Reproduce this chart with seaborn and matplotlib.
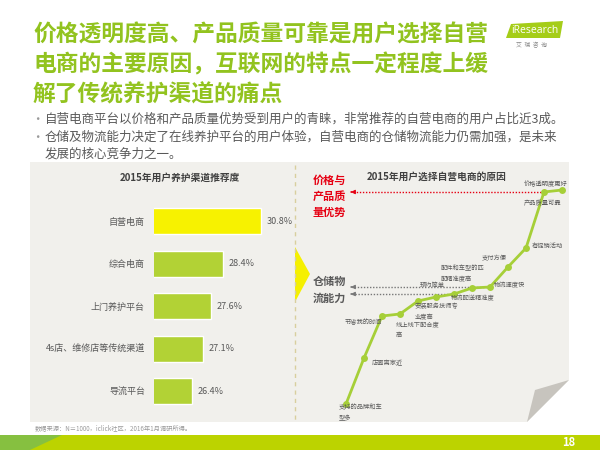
import numpy as np
import matplotlib.pyplot as plt
import seaborn as sns
from matplotlib.patches import Polygon, Rectangle

sns.set_theme(style="white")
plt.rcParams['font.family'] = ['Noto Sans CJK SC', 'DejaVu Sans']

# ---- data ----
title_lines = ['价格透明度高、产品质量可靠是用户选择自营',
               '电商的主要原因，互联网的特点一定程度上缓',
               '解了传统养护渠道的痛点']
bullet_lines = ['自营电商平台以价格和产品质量优势受到用户的青睐，非常推荐的自营电商的用户占比近3成。',
                '仓储及物流能力决定了在线养护平台的用户体验，自营电商的仓储物流能力仍需加强，是未来',
                '发展的核心竞争力之一。']

channels = ['自营电商', '综合电商', '上门养护平台', '4s店、维修店等传统渠道', '导流平台']
shares = [30.8, 28.4, 27.6, 27.1, 26.4]

reasons = ['支持的品牌和车\n型多', '店面离家近', '节省我的时间', '线上线下配合度\n高',
           '安装服务技师专\n业度高', '预约简单', '物流配送精准度', '配件和车型的匹\n配精准度高',
           '物流速度快', '支付方便', '有促销活动', '产品质量可靠', '价格透明度更好']
reason_scores = [16, 62, 104, 106, 119, 123, 126, 132, 133, 153, 172, 228, 230]

W, H = 600, 450
GREEN = '#92c31f'
GRAY = '#595959'


def box(x0, y0, x1, y1):
    return [x0 / W, 1 - y1 / H, (x1 - x0) / W, (y1 - y0) / H]


fig = plt.figure(figsize=(6, 4.5), dpi=100)
fig.patch.set_facecolor('white')

# full-figure layer for the slide decoration
bg = fig.add_axes([0, 0, 1, 1])
bg.set_xlim(0, W)
bg.set_ylim(H, 0)
bg.axis('off')

# title and logo
for i, line in enumerate(title_lines):
    bg.text(33, 35 + i * 30, line, fontsize=16.4, fontweight='bold', color=GREEN, va='center')
bg.add_patch(Polygon([(506, 38), (511, 24), (563, 21), (560, 38)], color='#a5cd18', lw=0))
bg.text(535, 30.5, 'iResearch', fontsize=7.5, color='white', ha='center', va='center', family='Open Sans')
bg.text(532, 45, '艾  瑞  咨  询', fontsize=4.2, color='#888888', ha='center', va='center')

# bullets
for y, line, dot in zip([119, 137, 154], bullet_lines, [True, True, False]):
    if dot:
        bg.text(31, y, '•', fontsize=9, color='#9a9a9a', va='center')
    bg.text(45, y, line, fontsize=9, color=GRAY, va='center')

# panels
panel = '#f1f0ec'
bg.add_patch(Rectangle((30, 162), 265, 260, color=panel, lw=0))
bg.add_patch(Polygon([(295, 162), (569, 162), (569, 380), (527, 422), (295, 422)], color=panel, lw=0))
bg.add_patch(Polygon([(569, 380), (535, 390), (527, 422)], color='#c7c4be', lw=0))
bg.plot([295, 295], [165, 420], color='#d8cf9e', ls=(0, (3, 3)), lw=1)
bg.add_patch(Polygon([(295, 247), (310, 274), (295, 302)], color='#f5f000', lw=0))

bg.text(180, 178, '2015年用户养护渠道推荐度', fontsize=7, fontweight='bold', color='#404040',
        ha='center', va='center')
bg.text(437, 177, '2015年用户选择自营电商的原因', fontsize=7, fontweight='bold', color='#404040',
        ha='center', va='center')

# footer
bg.text(35, 428, '数据来源：N＝1000，iclick社区，2016年1月调研所得。', fontsize=4.5, color='#999999', va='center')
bg.add_patch(Rectangle((0, 435), 600, 15, color='#bcd300', lw=0))
bg.add_patch(Polygon([(0, 435), (62, 435), (30, 450), (0, 450)], color='#86c040', lw=0))
bg.text(569, 443, '18', fontsize=8, fontweight='bold', color='white', ha='center', va='center')

# ---- left: bar chart ----
ax1 = fig.add_axes(box(154, 200, 280, 412.5))
sns.barplot(x=shares, y=channels, hue=channels, legend=False, ax=ax1, width=0.61, saturation=1,
            palette=['#f7f200', '#b2d235', '#b2d235', '#b2d235', '#b2d235'])
ax1.set_xlim(24, 32)
ax1.patch.set_alpha(0)
for s in ax1.spines.values():
    s.set_visible(False)
ax1.set_xticks([])
ax1.set_xlabel('')
ax1.set_ylabel('')
ax1.tick_params(axis='y', length=0, pad=6.5, labelsize=6.5, labelcolor=GRAY)
for c in ax1.containers:
    ax1.bar_label(c, fmt='%.1f%%', padding=4, fontsize=6.5, color=GRAY)

# ---- right: reason curve ----
ax2 = fig.add_axes(box(346, 190, 562, 420))
x = np.arange(len(reasons))
sns.lineplot(x=x, y=reason_scores, ax=ax2, color='#a6cf38', lw=2, marker='o',
             markersize=5, markeredgewidth=0, clip_on=False)
ax2.set_xlim(0, len(reasons) - 1)
ax2.set_ylim(0, 230)
ax2.axis('off')

# label offsets in pixels (dx right, dy down), alignment
label_pos = [(-7, -1, 'left', 'top'), (8, 5, 'left', 'center'), (0, 6, 'right', 'center'),
             (-4, 6, 'left', 'top'), (-3, 1, 'left', 'top'), (-4, -12, 'center', 'center'),
             (-3, 4, 'left', 'center'), (-31, -5, 'left', 'bottom'), (4, -2, 'left', 'center'),
             (-1, -9, 'right', 'center'), (6, -2, 'left', 'center'), (-20, 11, 'left', 'center'),
             (6, -6, 'right', 'center')]
for i, (lab, (dx, dy, ha, va)) in enumerate(zip(reasons, label_pos)):
    ax2.annotate(lab, xy=(i, reason_scores[i]), xytext=(dx * 0.72, -dy * 0.72),
                 textcoords='offset points', ha=ha, va=va, fontsize=4.5, color=GRAY,
                 linespacing=1.5)


def to_bg(i):
    return bg.transData.inverted().transform(ax2.transData.transform((i, reason_scores[i])))


def dotted_arrow(i, color, gap):
    px, py = to_bg(i)
    bg.plot([px - gap, 352], [py, py], color=color, ls=(0, (1, 1.2)), lw=1)
    bg.annotate('', xy=(348, py), xytext=(354, py),
                arrowprops=dict(arrowstyle='-|>', color=color, lw=0.8, mutation_scale=6))


dotted_arrow(11, '#e60012', 3)
dotted_arrow(8, '#777777', 3)
dotted_arrow(6, '#777777', 3)

bg.text(313, 196, '价格与\n产品质\n量优势', fontsize=8, fontweight='bold', color='#e60012',
        va='center', linespacing=1.3)
bg.text(313, 290, '仓储物\n流能力', fontsize=8, fontweight='bold', color=GRAY,
        va='center', linespacing=1.4)

fig.savefig('out.png', dpi=100)
